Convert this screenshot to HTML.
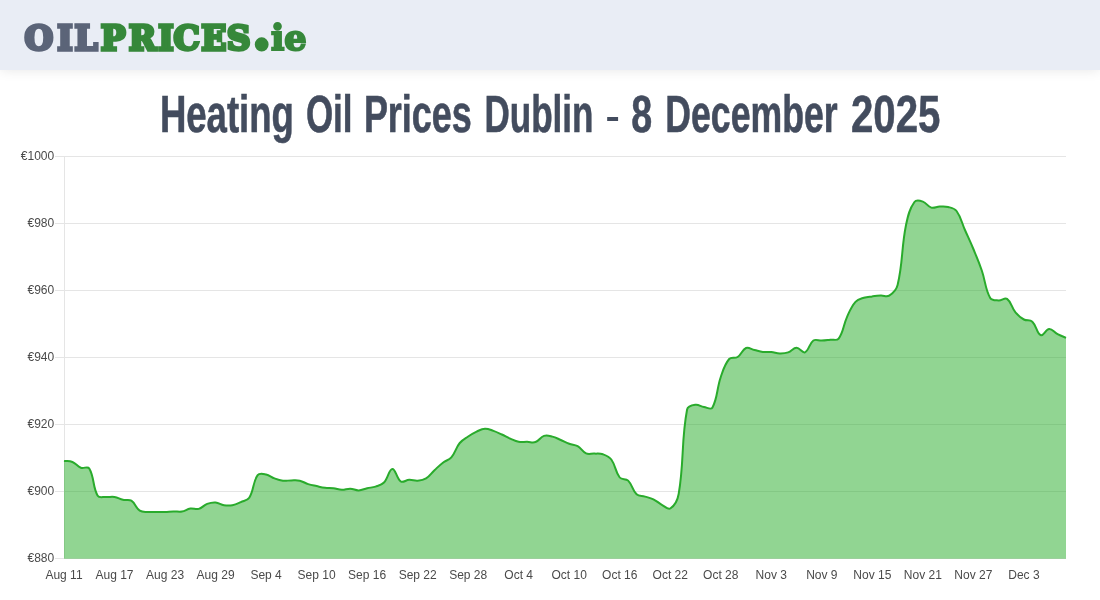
<!DOCTYPE html>
<html lang="en"><head><meta charset="utf-8"><title>Heating Oil Prices Dublin - 8 December 2025</title>
<style>
html,body{margin:0;padding:0;background:#fff;}
body{width:1100px;height:600px;position:relative;overflow:hidden;font-family:"Liberation Sans",sans-serif;}
#hdr{position:absolute;left:0;top:0;width:1100px;height:70px;background:#e9edf5;box-shadow:0 0 12px rgba(0,0,0,0.1);}
svg{position:absolute;left:0;top:0;}
.g{stroke:#e5e5e5;stroke-width:1;}
.t{font-family:"Liberation Sans",sans-serif;font-size:12px;fill:#4a4a4a;}
.h{font-family:"Liberation Sans",sans-serif;font-weight:bold;font-size:51px;fill:#434c5e;stroke:#434c5e;stroke-width:0.6;}
.lg{font-family:"DejaVu Serif","Liberation Serif",serif;font-weight:bold;font-size:33.8px;stroke-width:3.4;stroke-linejoin:miter;}
</style></head><body>
<div id="hdr"></div>
<svg width="1100" height="600" viewBox="0 0 1100 600">
<text transform="scale(0.975 1)" y="50.1" class="lg"><tspan x="25.13 58.67 76.51" fill="#5b6478" stroke="#5b6478">OIL</tspan><tspan x="103.38 132.00 162.36 178.05 206.46 232.51" fill="#36883a" stroke="#36883a">PRICES</tspan><tspan x="257.85" dy="-1.6" font-size="60" stroke-width="3" fill="#36883a" stroke="#36883a">.</tspan><tspan x="277.85 291.49" fill="#36883a" stroke="#36883a" dy="2.0" stroke-width="2.2" font-size="36">ie</tspan></text>
<line x1="55" x2="1066" y1="156.5" y2="156.5" class="g"/>
<line x1="55" x2="1066" y1="223.5" y2="223.5" class="g"/>
<line x1="55" x2="1066" y1="290.5" y2="290.5" class="g"/>
<line x1="55" x2="1066" y1="357.5" y2="357.5" class="g"/>
<line x1="55" x2="1066" y1="424.5" y2="424.5" class="g"/>
<line x1="55" x2="1066" y1="491.5" y2="491.5" class="g"/>
<line x1="55" x2="1066" y1="558.5" y2="558.5" class="g"/>
<line x1="64.5" x2="64.5" y1="156" y2="558" class="g"/>
<path d="M64.00 460.90C67.37 461.34 69.35 460.76 72.42 462.00C76.09 463.48 77.16 466.30 80.84 467.70C83.90 468.86 87.72 465.84 89.26 468.40C94.46 477.04 92.49 486.89 97.68 495.70C99.23 498.33 102.71 496.74 106.10 497.00C109.45 497.26 111.24 496.45 114.52 497.00C117.98 497.57 119.49 499.04 122.94 499.80C126.23 500.52 128.71 498.99 131.36 500.70C135.45 503.35 135.70 507.96 139.78 510.70C142.44 512.48 144.81 511.74 148.20 512.00C151.55 512.26 153.25 512.00 156.62 512.00C159.99 512.00 161.68 512.12 165.04 512.00C168.41 511.88 170.09 511.48 173.46 511.40C176.83 511.32 178.61 512.14 181.88 511.60C185.35 511.02 186.83 509.16 190.30 508.60C193.57 508.08 195.61 509.77 198.72 508.90C202.34 507.89 203.54 505.27 207.14 503.90C210.28 502.71 212.25 502.24 215.56 502.50C218.99 502.76 220.53 504.65 223.98 505.20C227.27 505.73 229.14 505.80 232.40 505.20C235.88 504.56 237.55 503.56 240.82 502.10C244.29 500.56 247.33 500.75 249.24 497.70C254.07 489.99 252.68 482.07 257.66 475.20C259.42 472.79 262.87 473.89 266.08 474.50C269.61 475.17 271.03 477.12 274.50 478.40C277.77 479.60 279.50 480.29 282.92 480.70C286.23 481.09 287.98 480.40 291.34 480.40C294.71 480.40 296.52 479.99 299.76 480.70C303.26 481.47 304.74 482.99 308.18 484.10C311.47 485.15 313.22 485.36 316.61 486.10C319.96 486.84 321.63 487.38 325.03 487.80C328.36 488.22 330.11 487.80 333.45 488.20C336.84 488.60 338.48 489.70 341.87 489.80C345.22 489.90 346.94 488.58 350.29 488.70C353.67 488.82 355.36 490.50 358.71 490.40C362.10 490.30 363.73 488.97 367.13 488.20C370.47 487.45 372.33 487.69 375.55 486.60C379.06 485.41 381.48 485.11 383.97 482.50C388.21 478.03 388.93 469.11 392.39 468.90C395.66 468.71 396.51 478.72 400.81 481.50C403.24 483.08 405.83 479.96 409.23 479.80C412.57 479.64 414.33 480.98 417.65 480.70C421.07 480.42 423.20 480.19 426.07 478.40C429.93 475.99 431.05 473.41 434.49 470.20C437.79 467.13 439.34 465.43 442.91 462.70C446.07 460.27 448.79 460.26 451.33 457.30C455.53 452.38 455.64 448.07 459.75 443.00C462.38 439.75 464.65 438.88 468.17 436.50C471.39 434.32 473.07 433.23 476.59 431.60C479.81 430.11 481.60 428.84 485.01 428.70C488.34 428.56 490.15 429.77 493.43 430.90C496.88 432.09 498.52 432.98 501.85 434.50C505.25 436.06 506.84 437.11 510.27 438.60C513.57 440.03 515.21 441.14 518.69 441.80C521.94 442.42 523.74 441.76 527.11 441.80C530.48 441.84 532.51 443.06 535.53 442.00C539.25 440.70 540.23 437.09 543.95 435.90C546.97 434.93 549.12 435.81 552.37 436.60C555.86 437.45 557.45 438.57 560.79 440.00C564.19 441.45 565.75 442.55 569.21 443.80C572.48 444.99 574.67 444.41 577.63 446.10C581.41 448.25 582.21 451.69 586.05 453.40C588.95 454.69 591.11 453.42 594.47 453.60C597.84 453.78 599.79 453.21 602.89 454.30C606.52 455.57 609.07 456.41 611.31 459.50C615.81 465.69 615.09 471.69 619.73 477.50C621.83 480.13 625.74 478.19 628.15 480.60C632.47 484.91 632.21 490.15 636.57 494.30C638.94 496.55 641.65 495.61 644.99 496.60C648.38 497.61 650.26 497.77 653.41 499.30C657.00 501.05 658.31 502.88 661.83 504.80C665.05 506.56 667.87 510.03 670.25 508.50C674.60 505.71 677.56 500.53 678.67 494.00C684.30 460.93 681.04 441.54 687.09 409.50C687.78 405.86 691.97 405.33 695.51 404.80C698.71 404.33 700.51 406.41 703.93 407.00C707.25 407.57 710.94 410.22 712.35 407.70C717.68 398.22 716.63 388.99 720.77 377.00C723.36 369.51 724.50 364.57 729.19 359.00C731.24 356.57 734.83 358.82 737.61 357.00C741.57 354.42 742.08 349.64 746.03 348.00C748.81 346.84 751.09 349.20 754.45 350.00C757.82 350.80 759.46 351.59 762.87 352.00C766.20 352.39 767.95 351.72 771.29 352.00C774.69 352.28 776.34 353.32 779.71 353.40C783.07 353.48 784.97 353.45 788.13 352.40C791.71 351.21 793.18 347.82 796.55 347.80C799.91 347.78 802.30 353.46 804.97 352.30C809.04 350.54 809.13 343.46 813.39 340.50C815.87 338.78 818.46 340.76 821.82 340.60C825.19 340.44 826.87 340.10 830.24 339.70C833.61 339.30 836.86 341.04 838.66 338.60C843.60 331.88 843.20 325.28 847.08 316.80C849.93 310.56 851.13 306.75 855.50 301.80C857.87 299.11 860.39 298.83 863.92 297.70C867.12 296.67 868.96 296.82 872.34 296.40C875.69 295.98 877.38 295.76 880.76 295.60C884.12 295.44 886.59 297.23 889.18 295.60C893.33 292.99 896.37 290.16 897.60 285.00C903.10 261.92 901.22 248.64 906.02 225.00C907.96 215.44 909.43 208.96 914.44 202.00C916.16 199.60 919.83 200.59 922.86 201.60C926.57 202.83 927.58 206.50 931.28 207.60C934.31 208.50 936.32 206.72 939.70 206.60C943.06 206.48 944.92 206.16 948.12 207.00C951.66 207.92 954.45 208.15 956.54 211.00C961.19 217.35 961.59 222.40 964.96 230.00C968.33 237.60 970.19 241.33 973.38 249.00C976.92 257.53 978.80 261.77 981.80 270.50C985.53 281.37 985.05 288.83 990.22 298.00C991.79 300.79 995.23 300.22 998.64 300.40C1001.97 300.58 1004.70 297.22 1007.06 298.90C1011.44 302.02 1011.50 307.53 1015.48 312.40C1018.23 315.77 1020.14 317.42 1023.90 319.50C1026.87 321.14 1029.94 319.48 1032.32 321.70C1036.67 325.76 1036.67 333.44 1040.74 335.20C1043.41 336.36 1045.70 329.21 1049.16 329.00C1052.44 328.81 1054.08 332.37 1057.58 334.20C1060.82 335.89 1062.63 336.36 1066.00 337.80L1066 558.8L64 558.8Z" fill="rgba(36,172,38,0.5)"/>
<path d="M64.00 460.90C67.37 461.34 69.35 460.76 72.42 462.00C76.09 463.48 77.16 466.30 80.84 467.70C83.90 468.86 87.72 465.84 89.26 468.40C94.46 477.04 92.49 486.89 97.68 495.70C99.23 498.33 102.71 496.74 106.10 497.00C109.45 497.26 111.24 496.45 114.52 497.00C117.98 497.57 119.49 499.04 122.94 499.80C126.23 500.52 128.71 498.99 131.36 500.70C135.45 503.35 135.70 507.96 139.78 510.70C142.44 512.48 144.81 511.74 148.20 512.00C151.55 512.26 153.25 512.00 156.62 512.00C159.99 512.00 161.68 512.12 165.04 512.00C168.41 511.88 170.09 511.48 173.46 511.40C176.83 511.32 178.61 512.14 181.88 511.60C185.35 511.02 186.83 509.16 190.30 508.60C193.57 508.08 195.61 509.77 198.72 508.90C202.34 507.89 203.54 505.27 207.14 503.90C210.28 502.71 212.25 502.24 215.56 502.50C218.99 502.76 220.53 504.65 223.98 505.20C227.27 505.73 229.14 505.80 232.40 505.20C235.88 504.56 237.55 503.56 240.82 502.10C244.29 500.56 247.33 500.75 249.24 497.70C254.07 489.99 252.68 482.07 257.66 475.20C259.42 472.79 262.87 473.89 266.08 474.50C269.61 475.17 271.03 477.12 274.50 478.40C277.77 479.60 279.50 480.29 282.92 480.70C286.23 481.09 287.98 480.40 291.34 480.40C294.71 480.40 296.52 479.99 299.76 480.70C303.26 481.47 304.74 482.99 308.18 484.10C311.47 485.15 313.22 485.36 316.61 486.10C319.96 486.84 321.63 487.38 325.03 487.80C328.36 488.22 330.11 487.80 333.45 488.20C336.84 488.60 338.48 489.70 341.87 489.80C345.22 489.90 346.94 488.58 350.29 488.70C353.67 488.82 355.36 490.50 358.71 490.40C362.10 490.30 363.73 488.97 367.13 488.20C370.47 487.45 372.33 487.69 375.55 486.60C379.06 485.41 381.48 485.11 383.97 482.50C388.21 478.03 388.93 469.11 392.39 468.90C395.66 468.71 396.51 478.72 400.81 481.50C403.24 483.08 405.83 479.96 409.23 479.80C412.57 479.64 414.33 480.98 417.65 480.70C421.07 480.42 423.20 480.19 426.07 478.40C429.93 475.99 431.05 473.41 434.49 470.20C437.79 467.13 439.34 465.43 442.91 462.70C446.07 460.27 448.79 460.26 451.33 457.30C455.53 452.38 455.64 448.07 459.75 443.00C462.38 439.75 464.65 438.88 468.17 436.50C471.39 434.32 473.07 433.23 476.59 431.60C479.81 430.11 481.60 428.84 485.01 428.70C488.34 428.56 490.15 429.77 493.43 430.90C496.88 432.09 498.52 432.98 501.85 434.50C505.25 436.06 506.84 437.11 510.27 438.60C513.57 440.03 515.21 441.14 518.69 441.80C521.94 442.42 523.74 441.76 527.11 441.80C530.48 441.84 532.51 443.06 535.53 442.00C539.25 440.70 540.23 437.09 543.95 435.90C546.97 434.93 549.12 435.81 552.37 436.60C555.86 437.45 557.45 438.57 560.79 440.00C564.19 441.45 565.75 442.55 569.21 443.80C572.48 444.99 574.67 444.41 577.63 446.10C581.41 448.25 582.21 451.69 586.05 453.40C588.95 454.69 591.11 453.42 594.47 453.60C597.84 453.78 599.79 453.21 602.89 454.30C606.52 455.57 609.07 456.41 611.31 459.50C615.81 465.69 615.09 471.69 619.73 477.50C621.83 480.13 625.74 478.19 628.15 480.60C632.47 484.91 632.21 490.15 636.57 494.30C638.94 496.55 641.65 495.61 644.99 496.60C648.38 497.61 650.26 497.77 653.41 499.30C657.00 501.05 658.31 502.88 661.83 504.80C665.05 506.56 667.87 510.03 670.25 508.50C674.60 505.71 677.56 500.53 678.67 494.00C684.30 460.93 681.04 441.54 687.09 409.50C687.78 405.86 691.97 405.33 695.51 404.80C698.71 404.33 700.51 406.41 703.93 407.00C707.25 407.57 710.94 410.22 712.35 407.70C717.68 398.22 716.63 388.99 720.77 377.00C723.36 369.51 724.50 364.57 729.19 359.00C731.24 356.57 734.83 358.82 737.61 357.00C741.57 354.42 742.08 349.64 746.03 348.00C748.81 346.84 751.09 349.20 754.45 350.00C757.82 350.80 759.46 351.59 762.87 352.00C766.20 352.39 767.95 351.72 771.29 352.00C774.69 352.28 776.34 353.32 779.71 353.40C783.07 353.48 784.97 353.45 788.13 352.40C791.71 351.21 793.18 347.82 796.55 347.80C799.91 347.78 802.30 353.46 804.97 352.30C809.04 350.54 809.13 343.46 813.39 340.50C815.87 338.78 818.46 340.76 821.82 340.60C825.19 340.44 826.87 340.10 830.24 339.70C833.61 339.30 836.86 341.04 838.66 338.60C843.60 331.88 843.20 325.28 847.08 316.80C849.93 310.56 851.13 306.75 855.50 301.80C857.87 299.11 860.39 298.83 863.92 297.70C867.12 296.67 868.96 296.82 872.34 296.40C875.69 295.98 877.38 295.76 880.76 295.60C884.12 295.44 886.59 297.23 889.18 295.60C893.33 292.99 896.37 290.16 897.60 285.00C903.10 261.92 901.22 248.64 906.02 225.00C907.96 215.44 909.43 208.96 914.44 202.00C916.16 199.60 919.83 200.59 922.86 201.60C926.57 202.83 927.58 206.50 931.28 207.60C934.31 208.50 936.32 206.72 939.70 206.60C943.06 206.48 944.92 206.16 948.12 207.00C951.66 207.92 954.45 208.15 956.54 211.00C961.19 217.35 961.59 222.40 964.96 230.00C968.33 237.60 970.19 241.33 973.38 249.00C976.92 257.53 978.80 261.77 981.80 270.50C985.53 281.37 985.05 288.83 990.22 298.00C991.79 300.79 995.23 300.22 998.64 300.40C1001.97 300.58 1004.70 297.22 1007.06 298.90C1011.44 302.02 1011.50 307.53 1015.48 312.40C1018.23 315.77 1020.14 317.42 1023.90 319.50C1026.87 321.14 1029.94 319.48 1032.32 321.70C1036.67 325.76 1036.67 333.44 1040.74 335.20C1043.41 336.36 1045.70 329.21 1049.16 329.00C1052.44 328.81 1054.08 332.37 1057.58 334.20C1060.82 335.89 1062.63 336.36 1066.00 337.80" fill="none" stroke="#29ab2c" stroke-width="2" stroke-linejoin="round" stroke-linecap="butt"/>
<text x="54.2" y="160.3" text-anchor="end" class="t">€1000</text>
<text x="54.2" y="227.3" text-anchor="end" class="t">€980</text>
<text x="54.2" y="294.3" text-anchor="end" class="t">€960</text>
<text x="54.2" y="361.3" text-anchor="end" class="t">€940</text>
<text x="54.2" y="428.3" text-anchor="end" class="t">€920</text>
<text x="54.2" y="495.3" text-anchor="end" class="t">€900</text>
<text x="54.2" y="562.3" text-anchor="end" class="t">€880</text>
<text x="64.00" y="579" text-anchor="middle" class="t">Aug 11</text>
<text x="114.52" y="579" text-anchor="middle" class="t">Aug 17</text>
<text x="165.04" y="579" text-anchor="middle" class="t">Aug 23</text>
<text x="215.56" y="579" text-anchor="middle" class="t">Aug 29</text>
<text x="266.08" y="579" text-anchor="middle" class="t">Sep 4</text>
<text x="316.61" y="579" text-anchor="middle" class="t">Sep 10</text>
<text x="367.13" y="579" text-anchor="middle" class="t">Sep 16</text>
<text x="417.65" y="579" text-anchor="middle" class="t">Sep 22</text>
<text x="468.17" y="579" text-anchor="middle" class="t">Sep 28</text>
<text x="518.69" y="579" text-anchor="middle" class="t">Oct 4</text>
<text x="569.21" y="579" text-anchor="middle" class="t">Oct 10</text>
<text x="619.73" y="579" text-anchor="middle" class="t">Oct 16</text>
<text x="670.25" y="579" text-anchor="middle" class="t">Oct 22</text>
<text x="720.77" y="579" text-anchor="middle" class="t">Oct 28</text>
<text x="771.29" y="579" text-anchor="middle" class="t">Nov 3</text>
<text x="821.82" y="579" text-anchor="middle" class="t">Nov 9</text>
<text x="872.34" y="579" text-anchor="middle" class="t">Nov 15</text>
<text x="922.86" y="579" text-anchor="middle" class="t">Nov 21</text>
<text x="973.38" y="579" text-anchor="middle" class="t">Nov 27</text>
<text x="1023.90" y="579" text-anchor="middle" class="t">Dec 3</text>
<text x="159.9" y="131.9" textLength="134.0" lengthAdjust="spacingAndGlyphs" class="h">Heating</text>
<text x="305.9" y="131.9" textLength="46.6" lengthAdjust="spacingAndGlyphs" class="h">Oil</text>
<text x="363.9" y="131.9" textLength="107.9" lengthAdjust="spacingAndGlyphs" class="h">Prices</text>
<text x="484.5" y="131.9" textLength="109.0" lengthAdjust="spacingAndGlyphs" class="h">Dublin</text>
<text x="605.5" y="127.6" textLength="14.3" lengthAdjust="spacingAndGlyphs" class="h" style="font-size:34px;stroke-width:0">-</text>
<text x="631.3" y="131.9" textLength="20.9" lengthAdjust="spacingAndGlyphs" class="h">8</text>
<text x="665.3" y="131.9" textLength="172.3" lengthAdjust="spacingAndGlyphs" class="h">December</text>
<text x="851.0" y="131.9" textLength="89.4" lengthAdjust="spacingAndGlyphs" class="h">2025</text>
</svg>
</body></html>
